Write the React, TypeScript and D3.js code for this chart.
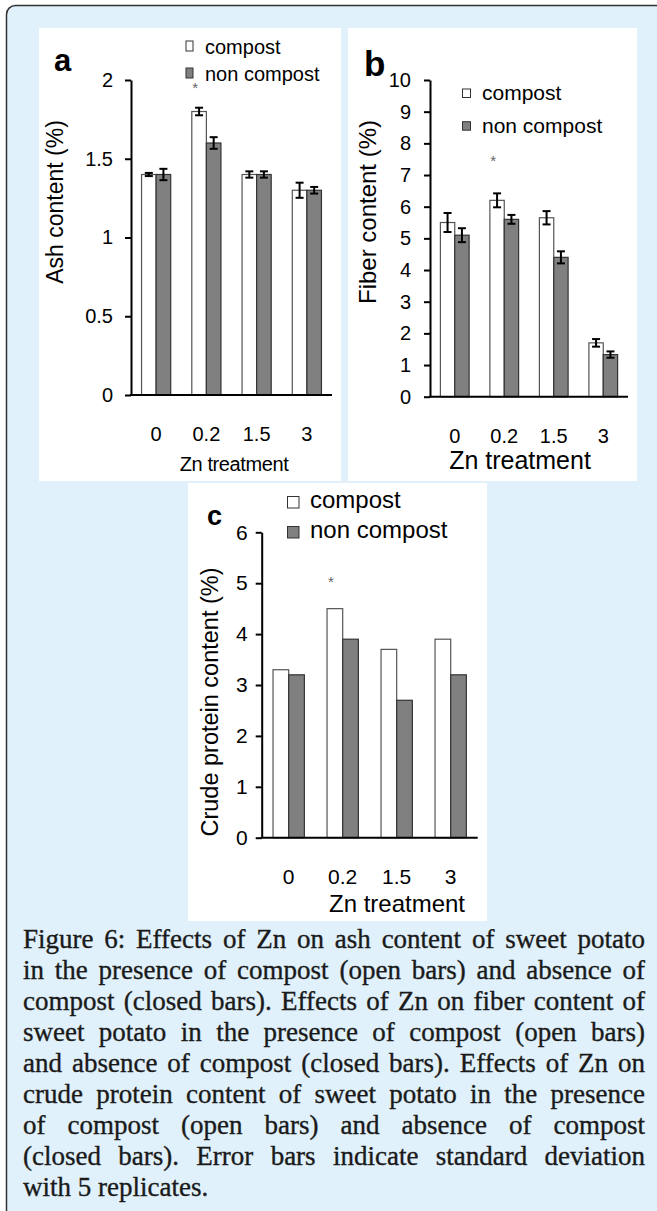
import React, { useEffect, useRef } from 'react';
import * as d3 from 'd3';

// Zn treatment levels
const treatments = ['0', '0.2', '1.5', '3'];

// a: ash content (%)
const ashCompost = [1.4, 1.8, 1.4, 1.3];
const ashCompostSd = [0.01, 0.024, 0.02, 0.048];
const ashNon = [1.4, 1.6, 1.4, 1.3];
const ashNonSd = [0.036, 0.037, 0.02, 0.021];
const ashTicks = [0, 0.5, 1, 1.5, 2];

// b: fiber content (%)
const fiberCompost = [5.5, 6.2, 5.65, 1.7];
const fiberCompostSd = [0.3, 0.22, 0.21, 0.12];
const fiberNon = [5.1, 5.6, 4.4, 1.33];
const fiberNonSd = [0.22, 0.14, 0.19, 0.1];
const fiberTicks = [0, 1, 2, 3, 4, 5, 6, 7, 8, 9, 10];

// c: crude protein content (%)
const proteinCompost = [3.3, 4.5, 3.7, 3.9];
const proteinNon = [3.2, 3.9, 2.7, 3.2];
const proteinTicks = [0, 1, 2, 3, 4, 5, 6];

const seriesNames = ['compost', 'non compost'];

const captionLines = [
  'Figure 6: Effects of Zn on ash content of sweet potato',
  'in the presence of compost (open bars) and absence of',
  'compost (closed bars). Effects of Zn on fiber content of',
  'sweet potato in the presence of compost (open bars)',
  'and absence of compost (closed bars). Effects of Zn on',
  'crude protein content of sweet potato in the presence',
  'of compost (open bars) and absence of compost',
  '(closed bars). Error bars indicate standard deviation',
  'with 5 replicates.',
];

const W = 657, H = 1211;
const SANS = '"Liberation Sans", Arial, sans-serif';
const SERIF = '"Liberation Serif", "Times New Roman", serif';

const drawPanel = (svg, p) => {
  const g = svg.append('g');

  g.append('rect')
    .attr('x', p.box[0]).attr('y', p.box[1])
    .attr('width', p.box[2]).attr('height', p.box[3])
    .attr('fill', '#fff');

  const y = d3.scaleLinear().domain([0, p.max]).range([p.y0, p.yTop]);
  const x = d3.scaleBand().domain(treatments).range([p.x0, p.x1]);
  const bw = x.bandwidth() * 0.29;

  // bars
  const groups = [
    { vals: p.compost, sd: p.compostSd, fill: '#fff', stroke: '#555', off: -bw },
    { vals: p.non, sd: p.nonSd, fill: '#808080', stroke: '#333', off: 0 },
  ];
  groups.forEach(s => {
    g.selectAll(null)
      .data(s.vals)
      .enter()
      .append('rect')
      .attr('x', (d, i) => x(treatments[i]) + x.bandwidth() / 2 + s.off)
      .attr('y', d => y(d))
      .attr('width', bw)
      .attr('height', d => p.y0 - y(d))
      .attr('fill', s.fill)
      .attr('stroke', s.stroke)
      .attr('stroke-width', 1.2);

    if (s.sd) {
      s.vals.forEach((v, i) => {
        const cx = x(treatments[i]) + x.bandwidth() / 2 + s.off + bw / 2;
        const e = g.append('g').attr('stroke', '#000').attr('stroke-width', 2);
        e.append('line').attr('x1', cx).attr('x2', cx)
          .attr('y1', y(v - s.sd[i])).attr('y2', y(v + s.sd[i]));
        [v - s.sd[i], v + s.sd[i]].forEach(t => {
          e.append('line').attr('x1', cx - 4).attr('x2', cx + 4)
            .attr('y1', y(t)).attr('y2', y(t));
        });
      });
    }
  });

  // y axis
  const ya = g.append('g')
    .attr('transform', `translate(${p.x0},0)`)
    .call(d3.axisLeft(y).tickValues(p.ticks).tickSize(6).tickSizeOuter(0).tickPadding(p.tickPad).tickFormat(d3.format('')));
  ya.selectAll('path, line').attr('stroke', '#000').attr('stroke-width', 2);
  ya.selectAll('text')
    .attr('font-family', SANS).attr('font-size', p.tickFont).attr('fill', '#000');

  // x axis line
  g.append('line')
    .attr('x1', p.x0 - 1).attr('x2', p.x1)
    .attr('y1', p.y0).attr('y2', p.y0)
    .attr('stroke', '#000').attr('stroke-width', 2);

  g.selectAll(null)
    .data(treatments)
    .enter()
    .append('text')
    .attr('x', d => x(d) + x.bandwidth() / 2)
    .attr('y', p.xLabY)
    .attr('text-anchor', 'middle')
    .attr('font-family', SANS).attr('font-size', p.tickFont)
    .text(d => d);

  g.append('text')
    .attr('x', p.titleX).attr('y', p.titleY)
    .attr('text-anchor', 'middle')
    .attr('font-family', SANS).attr('font-size', p.titleFont)
    .attr('letter-spacing', p.titleSpacing)
    .text('Zn treatment');

  g.append('text')
    .attr('transform', `translate(${p.yLab[0]},${p.yLab[1]}) rotate(-90)`)
    .attr('text-anchor', 'middle')
    .attr('font-family', SANS).attr('font-size', p.yLabFont)
    .text(p.yTitle);

  g.append('text')
    .attr('x', p.letter[0]).attr('y', p.letter[1])
    .attr('font-family', SANS).attr('font-weight', 'bold').attr('font-size', p.letterFont)
    .text(p.letterText);

  // significance mark over 0.2
  g.append('text')
    .attr('x', x('0.2') + x.bandwidth() / 2 - bw / 2 - 4)
    .attr('y', y(p.star) + 9)
    .attr('text-anchor', 'middle')
    .attr('font-family', SANS).attr('font-size', 15).attr('fill', '#666')
    .text('*');

  // legend
  const lg = p.legend;
  seriesNames.forEach((name, i) => {
    g.append('rect')
      .attr('x', lg.x).attr('y', lg.y + i * lg.gap)
      .attr('width', lg.w).attr('height', lg.h)
      .attr('fill', i === 0 ? '#fff' : '#808080')
      .attr('stroke', '#333').attr('stroke-width', 1);
    g.append('text')
      .attr('x', lg.tx).attr('y', lg.ty + i * lg.gap)
      .attr('font-family', SANS).attr('font-size', lg.font)
      .text(name);
  });
};

const App = () => {
  const ref = useRef(null);

  useEffect(() => {
    const svg = d3.select(ref.current);
    svg.selectAll('*').remove();

    svg.append('rect')
      .attr('x', 6.5).attr('y', 5.5)
      .attr('width', W + 40).attr('height', H + 40)
      .attr('rx', 9)
      .attr('fill', '#e0f1fb')
      .attr('stroke', '#333').attr('stroke-width', 1.5);

    drawPanel(svg, {
      box: [39, 28, 302, 453],
      compost: ashCompost, compostSd: ashCompostSd, non: ashNon, nonSd: ashNonSd,
      max: 2, ticks: ashTicks, x0: 131, x1: 332, y0: 395, yTop: 80,
      tickFont: 20, tickPad: 12, xLabY: 441,
      titleX: 234, titleY: 471, titleFont: 20, titleSpacing: -0.4,
      yLab: [63, 202], yLabFont: 23, yTitle: 'Ash content (%)',
      letter: [54, 71], letterFont: 31, letterText: 'a',
      star: 1.975,
      legend: { x: 186, y: 41, w: 7, h: 10, gap: 27, tx: 205, ty: 54, font: 20 },
    });

    drawPanel(svg, {
      box: [348, 28, 289, 453],
      compost: fiberCompost, compostSd: fiberCompostSd, non: fiberNon, nonSd: fiberNonSd,
      max: 10, ticks: fiberTicks, x0: 430, x1: 628, y0: 396.7, yTop: 80,
      tickFont: 20, tickPad: 13, xLabY: 443,
      titleX: 520, titleY: 469, titleFont: 25, titleSpacing: 0,
      yLab: [376, 212], yLabFont: 24, yTitle: 'Fiber content (%)',
      letter: [364, 76], letterFont: 35, letterText: 'b',
      star: 7.57,
      legend: { x: 462.5, y: 89, w: 8, h: 8.5, gap: 32.7, tx: 482, ty: 100, font: 21 },
    });

    drawPanel(svg, {
      box: [188, 483, 299, 438],
      compost: proteinCompost, non: proteinNon,
      max: 6, ticks: proteinTicks, x0: 261.7, x1: 477.7, y0: 837.7, yTop: 532.3,
      tickFont: 21, tickPad: 8, xLabY: 884,
      titleX: 397, titleY: 912, titleFont: 24, titleSpacing: 0,
      yLab: [218, 702], yLabFont: 23.5, yTitle: 'Crude protein content (%)',
      letter: [207, 525], letterFont: 27, letterText: 'c',
      star: 5.1,
      legend: { x: 287.5, y: 496.5, w: 11.5, h: 11.5, gap: 30, tx: 310, ty: 508, font: 24 },
    });

    // caption, justified line by line
    const left = 23, right = 645;
    captionLines.forEach((line, i) => {
      const t = svg.append('text')
        .attr('x', left).attr('y', 948 + i * 31)
        .attr('font-family', SERIF).attr('font-size', 27)
        .attr('fill', '#1a1a1a')
        .attr('stroke', '#1a1a1a').attr('stroke-width', 0.35)
        .text(line);
      if (i < captionLines.length - 1) {
        const len = t.node().getComputedTextLength();
        const spaces = line.split(' ').length - 1;
        t.style('word-spacing', `${Math.max(0, (right - left - len) / spaces)}px`);
      }
    });
  }, []);

  return (
    <svg
      ref={ref}
      width={W}
      height={H}
      style={{ position: 'absolute', left: 0, top: 0, background: '#fff' }}
    />
  );
};

export default App;
